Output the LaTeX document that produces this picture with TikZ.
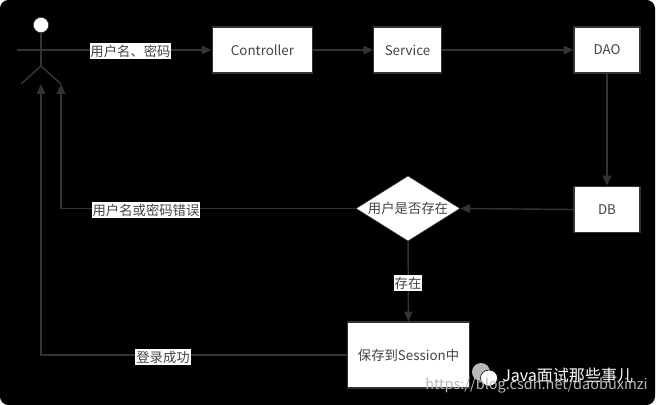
\documentclass[tikz,border=0pt]{standalone}
\usepackage{fontspec}
\usepackage{xcolor}
\usetikzlibrary{shapes.geometric,arrows.meta}
\setmainfont{Noto Sans CJK SC}
\definecolor{LineGrey}{HTML}{333333}
\definecolor{TextGrey}{HTML}{444444}
\definecolor{MarkGrey}{HTML}{B8B8B8}

\begin{document}
\begin{tikzpicture}[x=0.025cm, y=-0.025cm,
    every node/.style={font=\fontsize{9.5}{11}\selectfont, text=TextGrey},
    box/.style={draw=LineGrey, thick, fill=white, inner sep=0pt},
    choice/.style={diamond, aspect=1.6, draw=LineGrey, fill=white, inner sep=0pt},
    lbl/.style={fill=white, inner sep=0.6pt, minimum height=0.42cm},
    flow/.style={draw=LineGrey, line width=1pt, -{Triangle[length=7pt,width=6pt]}},
    limb/.style={draw=LineGrey, line width=1.1pt}]
    \useasboundingbox (0,0) rectangle (657,405);
    \fill[white] (0,0) rectangle (657,405);
    \fill[black, rounded corners=6pt] (0,0) rectangle (655,405);

    % boxes
    \node[box, minimum width=2.52cm, minimum height=1.15cm] (controller) at (262.5,50) {Controller};
    \node[box, minimum width=1.68cm, minimum height=1.15cm] (service) at (407.5,50) {Service};
    \node[box, minimum width=1.65cm, minimum height=1.15cm] (dao) at (607,50) {DAO};
    \node[box, minimum width=1.65cm, minimum height=1.17cm] (db) at (607,209.5) {DB};
    \node[choice, minimum width=2.6cm, minimum height=1.63cm] (exists) at (408,208.5) {用户是否存在};
    \node[box, minimum width=3.07cm, minimum height=1.65cm] (save) at (408.5,355) {保存到Session中};

    % actor
    \node[circle, draw=LineGrey, fill=white, minimum size=0.38cm, inner sep=0pt] (head) at (41,25) {};
    \coordinate (hip) at (41,66);
    \coordinate (armL) at (17,50);
    \coordinate (legL) at (21,84);
    \coordinate (legR) at (61,84);
    \coordinate (footL) at (41,84);
    \draw[limb] (head) -- (hip);
    \draw[limb] (legL) -- (hip) -- (legR);

    % connectors
    \draw[flow] (armL) -- (controller);
    \draw[flow] (controller) -- (service);
    \draw[flow] (service) -- (dao);
    \draw[flow] (dao) -- (db);
    \draw[flow] (db.west) -- (exists.east);
    \draw[flow] (exists) -- (save);
    \draw[flow] (exists.west) -| (legR);
    \draw[flow] (save.west) -| (footL);

    % labels
    \node[lbl] (lblLogin) at (130.5,51) {用户名、密码};
    \node[lbl] (lblWrong) at (146,210) {用户名或密码错误};
    \node[lbl] (lblFound) at (408,283) {存在};
    \node[lbl] (lblOk) at (163,357) {登录成功};

    % watermark
    \fill[MarkGrey] (481,372) ellipse (9 and 9);
    \fill[white, draw=black] (489,378) ellipse (8.5 and 8);
    \node[text=white, anchor=west, inner sep=0pt, font=\fontsize{11.4}{13}\selectfont] (mark) at (502,375.5) {Java面试那些事儿};
    \node[text=MarkGrey, anchor=west, inner sep=0pt, font=\fontsize{10.3}{12}\selectfont] (url) at (425,386) {https://blog.csdn.net/daobuxinzi};
\end{tikzpicture}
\end{document}
